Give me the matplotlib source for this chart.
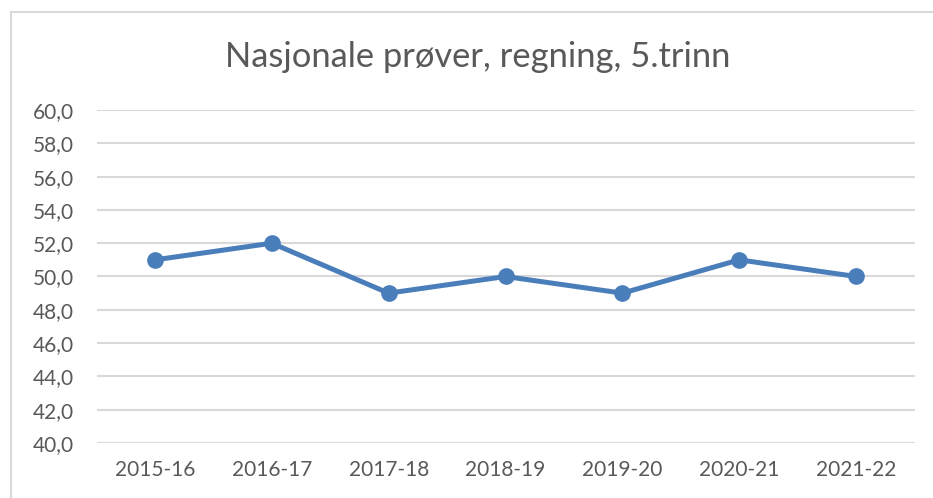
import matplotlib
matplotlib.use("Agg")
import matplotlib.pyplot as plt
import matplotlib.patches as patches
import numpy as np

# data
seasons = ["2015-16", "2016-17", "2017-18", "2018-19", "2019-20", "2020-21", "2021-22"]
scores = [51, 52, 49, 50, 49, 51, 50]
y_ticks = [40, 42, 44, 46, 48, 50, 52, 54, 56, 58, 60]
title = "Nasjonale prøver, regning, 5.trinn"

plt.rcParams['font.family'] = ['Lato', 'DejaVu Sans']
text_color = "#595959"
grid_color = "#d9d9d9"
line_color = "#4a7ebb"

fig = plt.figure(figsize=(9.33, 4.98), dpi=100)
ax = fig.add_axes([96.5 / 933, 1 - 443 / 498, (914.5 - 96.5) / 933, (443 - 110) / 498])

x = np.arange(len(seasons))
ax.plot(x, scores, color=line_color, linewidth=3.6, marker="o", markersize=11,
        solid_capstyle="round", zorder=3)

ax.set_xlim(-0.5, len(seasons) - 0.5)
ax.set_ylim(40, 60)
ax.set_yticks(y_ticks)
ax.set_yticklabels([f"{v:.1f}".replace(".", ",") for v in y_ticks])
ax.set_xticks(x)
ax.set_xticklabels(seasons)
ax.tick_params(axis="both", length=0, labelsize=15, labelcolor=text_color)
ax.tick_params(axis="y", pad=16)
ax.tick_params(axis="x", pad=12)
ax.grid(axis="y", color=grid_color, linewidth=1.5)
ax.set_axisbelow(True)
for s in ax.spines.values():
    s.set_visible(False)

fig.text(478 / 933, 1 - 57 / 498, title, ha="center", va="center",
         fontsize=24.8, color=text_color)

# chart border (cut off at right and bottom in the reference)
fig.patches.append(patches.Rectangle((10.5 / 933, -0.1), 1.2, 1 - 12.5 / 498 + 0.1,
                                     transform=fig.transFigure, fill=False,
                                     edgecolor=grid_color, linewidth=1.5))

fig.savefig("out.png", dpi=100)
